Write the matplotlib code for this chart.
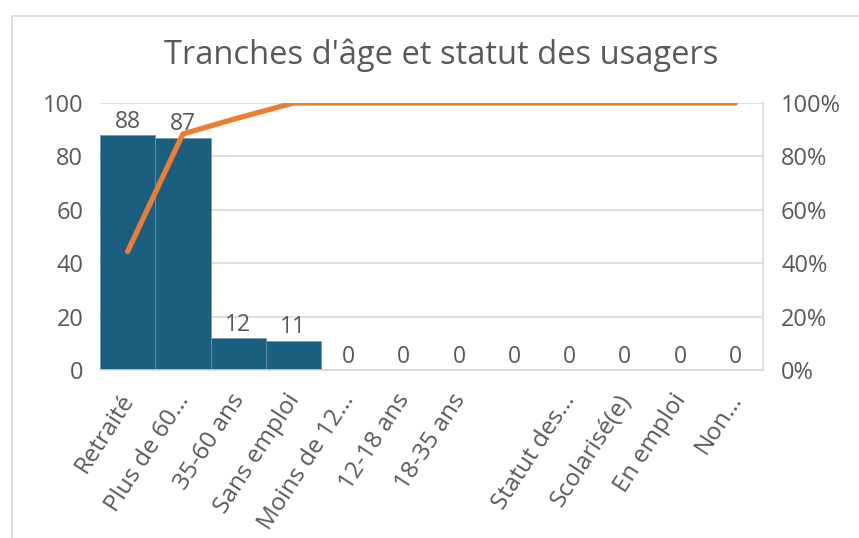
import matplotlib.pyplot as plt
from matplotlib.patches import Rectangle
from matplotlib.ticker import PercentFormatter

# Données du graphique
categories = ["Retraité", "Plus de 60...", "35-60 ans", "Sans emploi", "Moins de 12...",
              "12-18 ans", "18-35 ans", "", "Statut des...", "Scolarisé(e)", "En emploi", "Non..."]
effectifs = [88, 87, 12, 11, 0, 0, 0, 0, 0, 0, 0, 0]
cumul_pct = [0.444, 0.884, 0.944, 1.0, 1.0, 1.0, 1.0, 1.0, 1.0, 1.0, 1.0, 1.0]

gris = "#595959"
plt.rcParams['font.family'] = ['Open Sans', 'DejaVu Sans']

fig = plt.figure(figsize=(8.59, 5.38), dpi=100)
W, H = 859, 538
ax = fig.add_axes([100 / W, (H - 370) / H, 663 / W, 267 / H])

# cadre du graphique
fig.patches.append(Rectangle((12 / W, -0.01), 1.0, (H - 16) / H + 0.01, transform=fig.transFigure,
                             fill=False, edgecolor="#d9d9d9", linewidth=1.2))

x = range(len(categories))
bars = ax.bar(x, effectifs, width=1.0, color="#1a5e80", edgecolor="#6d95ab", linewidth=0.5, zorder=2)
for xi, v in zip(x, effectifs):
    ax.annotate(str(v), (xi, v), xytext=(0, 1), textcoords="offset points",
                ha="center", va="bottom", fontsize=16.5, color=gris)

ax.set_xlim(-0.5, len(categories) - 0.5)
ax.set_ylim(0, 100)
ax.set_yticks(range(0, 101, 20))
ax.grid(axis="y", color="#d9d9d9", linewidth=1.2, zorder=0)
ax.set_axisbelow(True)
# graduations invisibles, légèrement à gauche pour que le texte incliné tombe sous la barre
ax.set_xticks([i - 0.16 for i in x])
ax.set_xticklabels(categories, rotation=57, ha="right", va="top", rotation_mode="anchor",
                   fontsize=17.5, color=gris)
ax.tick_params(axis="x", length=0, pad=14)
ax.tick_params(axis="y", length=0, pad=12, labelsize=17, labelcolor=gris)
for s in ["left", "top", "right"]:
    ax.spines[s].set_visible(False)
ax.spines["bottom"].set_color("#d9d9d9")
ax.spines["bottom"].set_linewidth(1.2)

ax2 = ax.twinx()
ax2.plot(list(x), cumul_pct, color="#ed7d31", linewidth=3.8, solid_capstyle="round",
         solid_joinstyle="round", zorder=3)
ax2.set_ylim(0, 1.0)
ax2.set_yticks([0, 0.2, 0.4, 0.6, 0.8, 1.0])
ax2.yaxis.set_major_formatter(PercentFormatter(1.0, decimals=0))
ax2.tick_params(axis="y", length=0, pad=13, labelsize=17, labelcolor=gris)
for s in ["left", "top", "bottom"]:
    ax2.spines[s].set_visible(False)
ax2.spines["right"].set_color("#d9d9d9")
ax2.spines["right"].set_linewidth(1.2)

fig.text(441 / W, (H - 55) / H, "Tranches d'âge et statut des usagers", ha="center", va="center",
         fontsize=23.5, color=gris)

plt.savefig("out.png", dpi=100)
